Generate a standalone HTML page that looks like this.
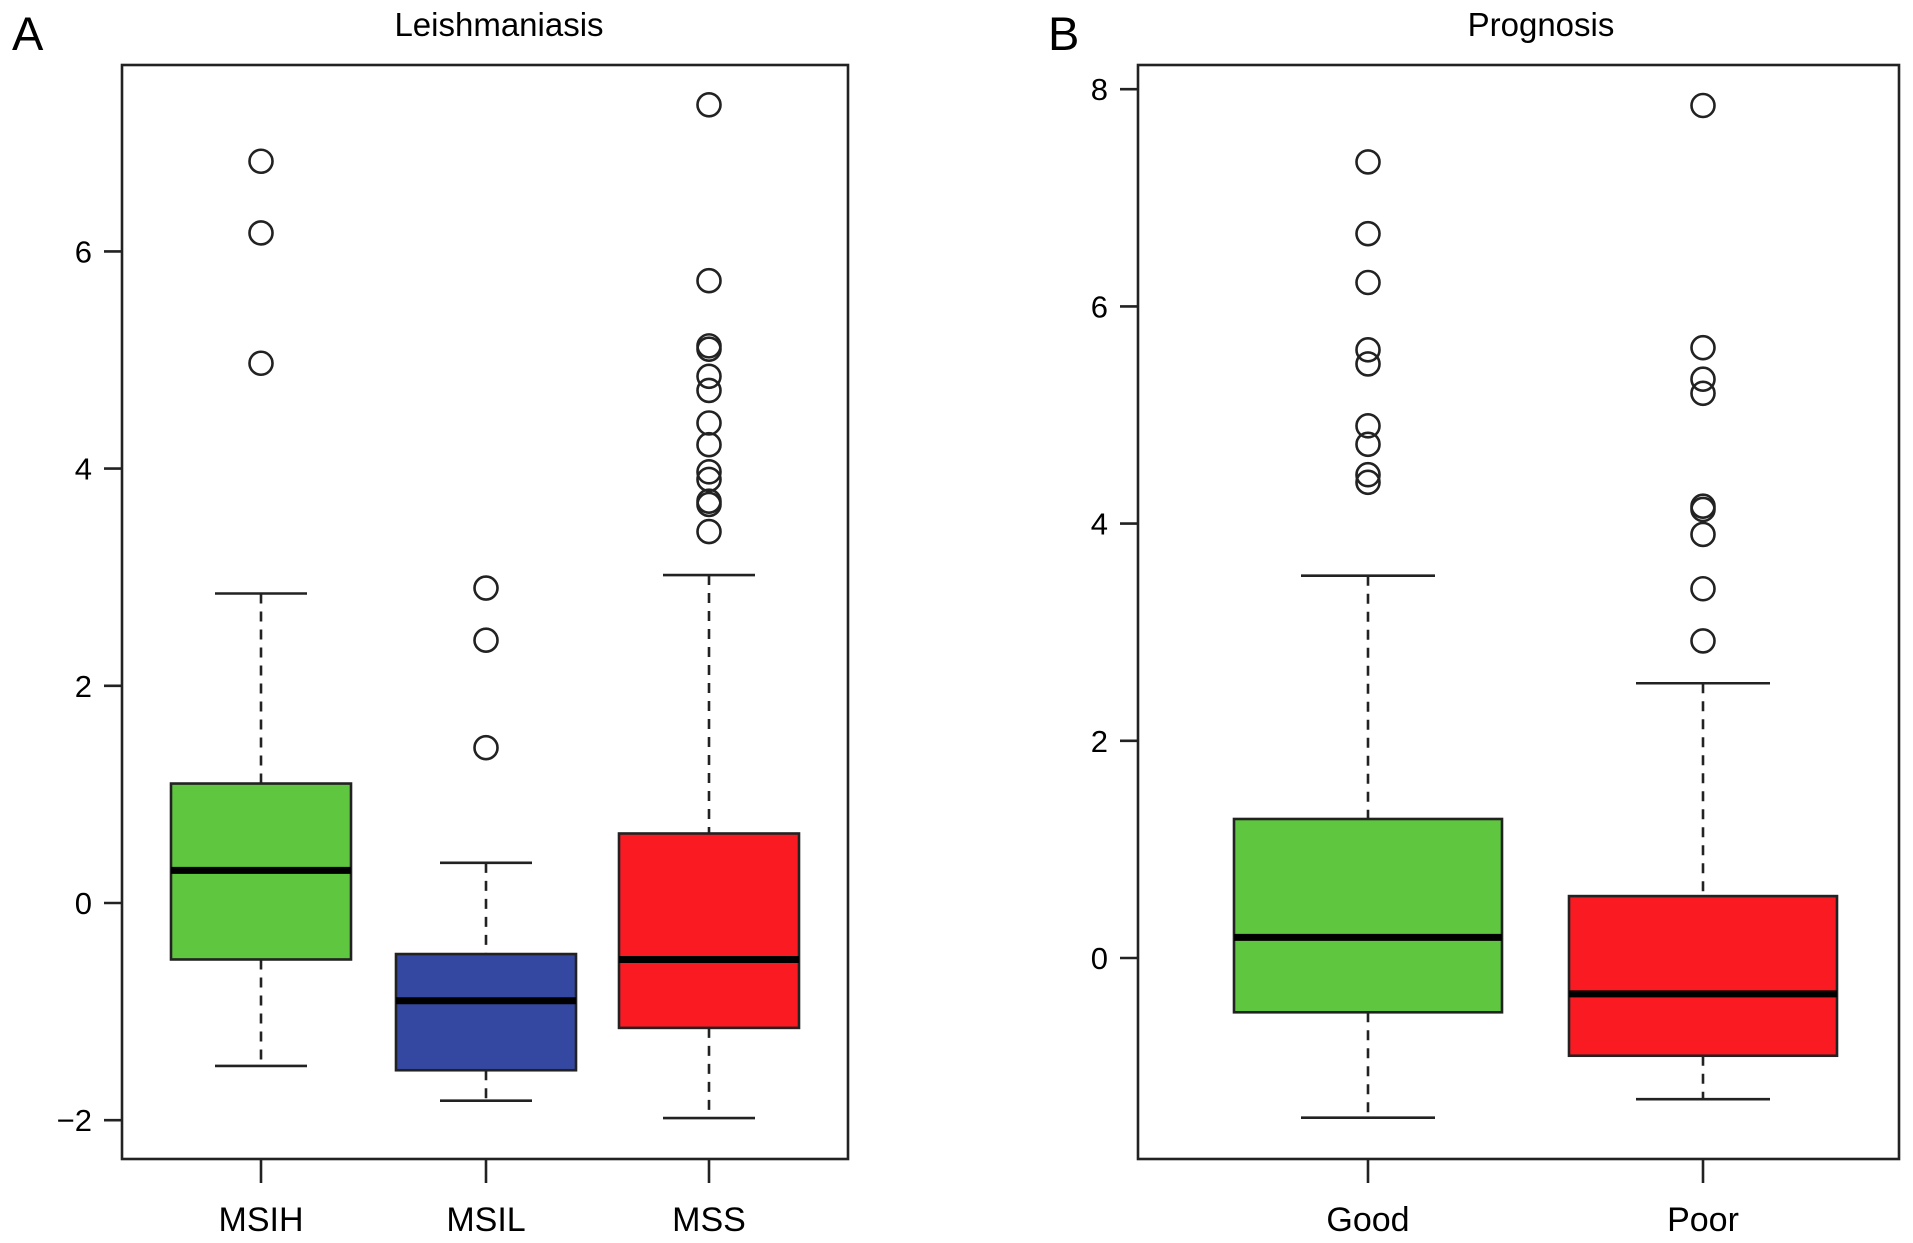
<!DOCTYPE html>
<html><head><meta charset="utf-8"><style>
html,body{margin:0;padding:0;background:#fff;}
svg{display:block;font-family:"Liberation Sans",Arial,sans-serif;}
</style></head><body>
<svg id="chart" width="1913" height="1243" viewBox="0 0 1913 1243" xmlns="http://www.w3.org/2000/svg">
<text x="12" y="50" font-size="47">A</text>
<text x="1048" y="50" font-size="47">B</text>
<text x="499" y="36" font-size="33" text-anchor="middle">Leishmaniasis</text>
<text x="1541" y="36" font-size="33" text-anchor="middle">Prognosis</text>
<g id="pA"></g>
<g id="pB"></g>
</svg>
<script>
const catsA = ["MSIH","MSIL","MSS"];
const colorsA = ["#5fc73f","#3548a1","#fa1a22"];
const q1A = [-0.52,-1.54,-1.15];
const medA = [0.3,-0.9,-0.52];
const q3A = [1.1,-0.47,0.64];
const loA = [-1.5,-1.82,-1.98];
const hiA = [2.85,0.37,3.02];
const outA = [[4.97,6.17,6.83],[1.43,2.42,2.9],[3.42,3.67,3.7,3.9,3.97,4.22,4.42,4.72,4.85,5.1,5.13,5.73,7.35]];
const ticksA = [-2,0,2,4,6];

const catsB = ["Good","Poor"];
const colorsB = ["#5fc73f","#fa1a22"];
const q1B = [-0.5,-0.9];
const medB = [0.19,-0.33];
const q3B = [1.28,0.57];
const loB = [-1.47,-1.3];
const hiB = [3.52,2.53];
const outB = [[4.38,4.45,4.73,4.9,5.47,5.6,6.22,6.67,7.33],[2.92,3.4,3.9,4.13,4.16,5.2,5.33,5.62,7.85]];
const ticksB = [0,2,4,6,8];

const NS="http://www.w3.org/2000/svg";
function mk(p,tag,a){const e=document.createElementNS(NS,tag);for(const k in a)e.setAttribute(k,a[k]);p.appendChild(e);return e;}

function panel(g,cfg){
  const {x0,x1,y0,y1,yZero,ppu,xs,hw,cap,cats,colors,q1,med,q3,lo,hi,out,ticks}=cfg;
  const Y=v=>yZero-v*ppu;
  const sw=2.6;
  const frame=mk(g,'rect',{x:x0,y:y0,width:x1-x0,height:y1-y0,fill:'none',stroke:'#222','stroke-width':sw});
  
  
  ticks.forEach(t=>{
    const l=mk(g,'line',{x1:x0-18,x2:x0,y1:Y(t),y2:Y(t),stroke:'#222','stroke-width':sw});
    
    
    const tx=mk(g,'text',{x:x0-30,y:Y(t)+11,'font-size':31,'text-anchor':'end'});
    tx.textContent=t<0?'\u2212'+Math.abs(t):String(t);
    
    
  });
  cats.forEach((c,i)=>{
    const x=xs[i];
    const grp=mk(g,'g',{});
    
    
    mk(grp,'line',{x1:x,x2:x,y1:Y(hi[i]),y2:Y(q3[i]),stroke:'#222','stroke-width':sw,'stroke-dasharray':'10,8'});
    mk(grp,'line',{x1:x,x2:x,y1:Y(q1[i]),y2:Y(lo[i]),stroke:'#222','stroke-width':sw,'stroke-dasharray':'10,8'});
    mk(grp,'line',{x1:x-cap,x2:x+cap,y1:Y(hi[i]),y2:Y(hi[i]),stroke:'#222','stroke-width':sw});
    mk(grp,'line',{x1:x-cap,x2:x+cap,y1:Y(lo[i]),y2:Y(lo[i]),stroke:'#222','stroke-width':sw});
    mk(grp,'rect',{x:x-hw,y:Y(q3[i]),width:2*hw,height:Y(q1[i])-Y(q3[i]),fill:colors[i],stroke:'#222','stroke-width':sw});
    mk(grp,'line',{x1:x-hw,x2:x+hw,y1:Y(med[i]),y2:Y(med[i]),stroke:'#000','stroke-width':7});
    out[i].forEach(v=>{
      const o=mk(grp,'circle',{cx:x,cy:Y(v),r:11.5,fill:'none',stroke:'#222','stroke-width':2.6});
      
      
    });
    const tk=mk(g,'line',{x1:x,x2:x,y1:y1,y2:y1+24,stroke:'#222','stroke-width':sw});
    
    
    const lb=mk(g,'text',{x:x,y:1231,'font-size':34,'text-anchor':'middle'});
    lb.textContent=c;
    
    
  });
}
panel(document.getElementById('pA'),{x0:122,x1:848,y0:65,y1:1159,yZero:903,ppu:108.6,xs:[261,486,709],hw:90,cap:46,
  cats:catsA,colors:colorsA,q1:q1A,med:medA,q3:q3A,lo:loA,hi:hiA,out:outA,ticks:ticksA});
panel(document.getElementById('pB'),{x0:1138,x1:1899,y0:65,y1:1159,yZero:958,ppu:108.6,xs:[1368,1703],hw:134,cap:67,
  cats:catsB,colors:colorsB,q1:q1B,med:medB,q3:q3B,lo:loB,hi:hiB,out:outB,ticks:ticksB});
</script>
</body></html>
